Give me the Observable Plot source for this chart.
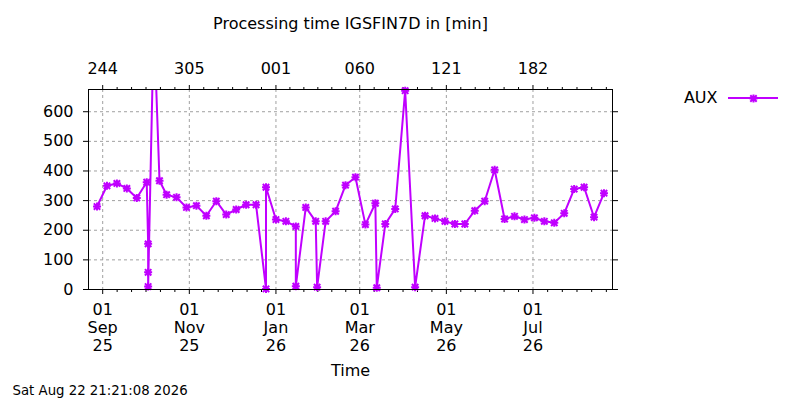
<!DOCTYPE html>
<html><head><meta charset="utf-8">
<script src="https://cdn.jsdelivr.net/npm/d3@7"></script>
<script src="https://cdn.jsdelivr.net/npm/@observablehq/plot@0.6"></script>
<style>body{margin:0;background:#fff;} svg{display:block}</style>
</head><body><div id="chart"></div>
<script>
const title = "Processing time IGSFIN7D in [min]";
const seriesName = "AUX";
const xLabel = "Time";
const caption = "Sat Aug 22 21:21:08 2026";
const dates = [
  "2025-08-28","2025-09-04","2025-09-11","2025-09-18","2025-09-25","2025-10-02",
  "2025-10-03","2025-10-03","2025-10-03","2025-10-07","2025-10-11","2025-10-16",
  "2025-10-23","2025-10-30","2025-11-06","2025-11-13","2025-11-20","2025-11-27",
  "2025-12-04","2025-12-11","2025-12-18","2025-12-25","2025-12-25","2026-01-01",
  "2026-01-08","2026-01-15","2026-01-15","2026-01-22","2026-01-29","2026-01-30",
  "2026-02-05","2026-02-12","2026-02-19","2026-02-26","2026-03-05","2026-03-12",
  "2026-03-13","2026-03-19","2026-03-26","2026-04-02","2026-04-09","2026-04-16",
  "2026-04-23","2026-04-30","2026-05-07","2026-05-14","2026-05-21","2026-05-28",
  "2026-06-04","2026-06-11","2026-06-18","2026-06-25","2026-07-02","2026-07-09",
  "2026-07-16","2026-07-23","2026-07-30","2026-08-06","2026-08-13","2026-08-20"
];
const values = [
  280,350,358,341,309,362,
  154,58,10,910,367,320,
  311,277,283,249,298,253,
  270,286,286,2,345,236,
  230,213,11,277,230,8,
  230,264,352,379,219,291,
  6,221,272,671,8,249,
  240,230,221,221,266,298,
  404,238,247,236,242,230,
  225,257,339,345,244,325
];
const xDomain = ["2025-08-22", "2026-08-26"];
const yDomain = [0, 675];
const yTicks = [0, 100, 200, 300, 400, 500, 600];
const majorTickDates = ["2025-09-01","2025-11-01","2026-01-01","2026-03-01","2026-05-01","2026-07-01","2026-09-01"];
const color = "#c000ff";
const font = "DejaVu Sans";

const data = dates.map((d, i) => ({date: new Date(d), value: values[i]}));
const domX = xDomain.map(d => new Date(d));
const majorsAll = majorTickDates.map(d => new Date(d));
const majors = majorsAll.filter(d => d >= domX[0] && d <= domX[1]);
const minors = [];
for (let i = 0; i < majorsAll.length - 1; i++) {
  const a = +majorsAll[i], b = +majorsAll[i + 1];
  for (let k = 1; k < 6; k++) {
    const t = new Date(a + (b - a) * k / 6);
    if (t >= domX[0] && t <= domX[1]) minors.push(t);
  }
}

const star = {
  draw(ctx, size) {
    const r = Math.sqrt(size / Math.PI);
    const d = r * 0.8;
    ctx.moveTo(-r, 0); ctx.lineTo(r, 0);
    ctx.moveTo(0, -r); ctx.lineTo(0, r);
    ctx.moveTo(-d, -d); ctx.lineTo(d, d);
    ctx.moveTo(-d, d); ctx.lineTo(d, -d);
  }
};

const grid = {stroke: "#a0a0a0", strokeOpacity: 1, strokeWidth: 1, strokeDasharray: "3,3"};
const fs = 16;

const svg = Plot.plot({
  width: 800, height: 400,
  marginLeft: 88, marginRight: 188, marginTop: 89, marginBottom: 111,
  style: {fontFamily: font, fontSize: fs + "px", color: "black", background: "white", overflow: "visible"},
  x: {type: "utc", domain: domX},
  y: {domain: yDomain},
  marks: [
    Plot.gridY(yTicks.filter(v => v > 0), grid),
    Plot.gridX(majors, grid),
    Plot.axisY(yTicks, {anchor: "left", tickSize: 5, tickPadding: 10, label: null, fontSize: fs}),
    Plot.axisY(yTicks, {anchor: "right", tickSize: 5, tickFormat: () => "", label: null}),
    Plot.axisX(majors, {anchor: "bottom", tickSize: 5, tickPadding: 8, tickFormat: d3.utcFormat("%d\n%b\n%y"), lineHeight: 1.12, label: null, fontSize: fs}),
    Plot.axisX(minors, {anchor: "bottom", tickSize: 3, tickFormat: () => "", label: null}),
    Plot.axisX(majors, {anchor: "top", tickSize: 5, tickPadding: 11, tickFormat: d3.utcFormat("%j"), label: null, fontSize: fs}),
    Plot.axisX(minors, {anchor: "top", tickSize: 3, tickFormat: () => "", label: null}),
    Plot.line(data, {x: "date", y: "value", stroke: color, strokeWidth: 2, clip: true}),
    Plot.dot(data, {x: "date", y: "value", filter: d => d.value <= yDomain[1], symbol: star, r: 4, stroke: color, strokeWidth: 2, fill: "none"}),
    Plot.frame({stroke: "black"}),
    Plot.text([title], {text: d => d, frameAnchor: "top", dy: -66, lineAnchor: "middle", fontSize: fs}),
    Plot.text([xLabel], {text: d => d, frameAnchor: "bottom", dy: 81, lineAnchor: "middle", fontSize: fs}),
    Plot.text([caption], {text: d => d, frameAnchor: "bottom-left", dx: -76, dy: 101, lineAnchor: "middle", textAnchor: "start", fontSize: 13.3}),
    Plot.text([seriesName], {text: d => d, frameAnchor: "top-right", dx: 105, dy: 8, lineAnchor: "middle", textAnchor: "end", fontSize: fs}),
    Plot.dot([seriesName], {frameAnchor: "top-right", dx: 141, dy: 9, symbol: star, r: 4, stroke: color, strokeWidth: 2, fill: "none"})
  ]
});

// legend line sample
d3.select(svg).append("line")
  .attr("x1", 728).attr("x2", 778).attr("y1", 98).attr("y2", 98)
  .attr("stroke", color).attr("stroke-width", 2);

document.getElementById("chart").appendChild(svg);
</script>
</body></html>
